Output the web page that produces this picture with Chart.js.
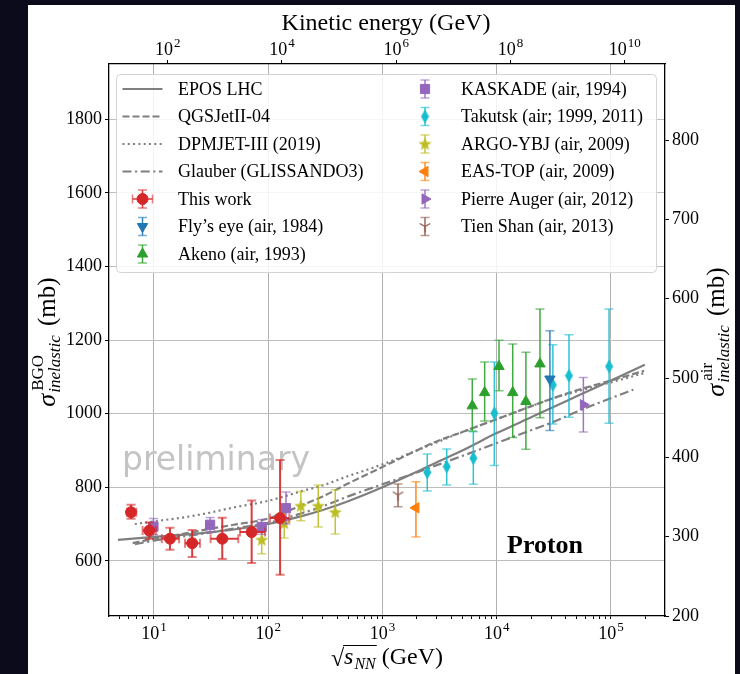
<!DOCTYPE html>
<html>
<head>
<meta charset="utf-8">
<title>Inelastic cross section</title>
<script src="https://cdn.jsdelivr.net/npm/chart.js@4.4.1/dist/chart.umd.min.js"></script>
<style>
  html, body { margin: 0; padding: 0; }
  body { width: 740px; height: 674px; background: #0c0b1c; position: relative; overflow: hidden; }
  #fig { position: absolute; left: 28px; top: 5px; width: 707px; height: 669px; background: #fff; }
  canvas { display: block; }
</style>
</head>
<body>
<div id="fig"><canvas id="xsecChart" width="707" height="669"></canvas></div>
<script>
// ---- values (sqrt(s_NN) in GeV, sigma in mb) ----
const thisWorkX   = [6.3, 9.1, 13.8, 21.6, 39.6, 71.6, 127];
const thisWorkY   = [732, 682, 660, 648, 660, 678, 716];
const thisWorkYLo = [714, 659, 630, 610, 605, 594, 562];
const thisWorkYHi = [752, 704, 690, 684, 717, 764, 874];
const thisWorkXLo = [5.8, 7.96, 11.7, 18.7, 31.3, 56.6, 103.5];
const thisWorkXHi = [7.0, 10.4, 16.6, 25.3, 54.7, 93.8, 153];

const flysEyeX = [29200];
const flysEyeY = [1094];
const flysEyeLo = [954];
const flysEyeHi = [1225];

const akenoX  = [6110, 7840, 10470, 13800, 18000, 23900];
const akenoY  = [1021, 1057, 1128, 1057, 1033, 1135];
const akenoLo = [953, 980, 1062, 935, 903, 989];
const akenoHi = [1094, 1140, 1199, 1189, 1167, 1284];

const kascadeX  = [9.9, 31, 87.7, 143];
const kascadeY  = [693, 698, 692, 743];
const kascadeLo = [671, 678, 672, 700];
const kascadeHi = [715, 718, 712, 787];

const takutskX  = [2466, 3650, 6240, 9530, 31000, 42900, 96200];
const takutskY  = [840, 856, 879, 1001, 1078, 1103, 1128];
const takutskLo = [790, 806, 808, 859, 972, 990, 974];
const takutskHi = [890, 904, 951, 1140, 1187, 1214, 1284];

const argoX  = [87.7, 138, 193, 274, 386];
const argoY  = [657, 702, 749, 749, 732];
const argoLo = [619, 662, 709, 692, 673];
const argoHi = [693, 738, 788, 806, 793];

const easTopX = [1963];
const easTopY = [744];
const easTopLo = [665];
const easTopHi = [815];

const augerX = [57300];
const augerY = [1024];
const augerLo = [950];
const augerHi = [1098];

const tienShanX = [1368];
const tienShanY = [779];
const tienShanLo = [747];
const tienShanHi = [809];

// model curves
const eposX = [4.84, 10, 20, 30, 50, 100, 200, 300, 500, 1000, 2000, 3000, 5000, 1e4, 2e4, 3e4, 5e4, 1e5, 1.98e5];
const eposY = [657, 665, 672, 677, 685, 700, 722, 738, 762, 800, 842, 868, 900, 947, 990, 1015, 1047, 1090, 1133];
const qgsX = [6.5, 10, 20, 30, 50, 100, 200, 300, 500, 1000, 2000, 3000, 5000, 1e4, 2e4, 3e4, 5e4, 1e5, 1.95e5];
const qgsY = [648, 660, 676, 686, 698, 715, 752, 775, 810, 855, 900, 925, 950, 985, 1020, 1040, 1063, 1090, 1116];
const dpmX = [6.8, 10, 20, 30, 50, 100, 200, 300, 500, 1000, 2000, 3000, 5000, 1e4, 2e4, 3e4, 5e4, 1e5, 1.95e5];
const dpmY = [700, 707, 720, 730, 745, 763, 790, 805, 830, 862, 900, 922, 950, 985, 1020, 1040, 1060, 1085, 1110];
const glauberX = [6.8, 10, 20, 30, 50, 100, 200, 300, 500, 1000, 2000, 3000, 5000, 1e4, 2e4, 3e4, 5e4, 1e5, 1.57e5];
const glauberY = [645, 655, 668, 676, 688, 703, 730, 748, 775, 808, 840, 860, 885, 920, 955, 975, 1005, 1042, 1065];

// axes
const xRange = [4.04, 2.97e5];
const xLabelPowers = [1, 2, 3, 4, 5];
const yLeftRange = [450, 1950];
const yLeftTicks = [600, 800, 1000, 1200, 1400, 1600, 1800];
const yRightRange = [200, 896];
const yRightTicks = [200, 300, 400, 500, 600, 700, 800];
const kinTickPowers = [2, 4, 6, 8, 10];
const KIN_OFFSET = -0.24; // log10(E_kin) = 2 log10(sqrt s) + offset

const serif = "'Liberation Serif', 'DejaVu Serif', serif";
const GREY = '#7f7f7f';

// ---- helpers ----
function isPow10(v) { const l = Math.log10(v); return Math.abs(l - Math.round(l)) < 1e-6; }
function kin(s) { return Math.pow(10, 2 * Math.log10(s) + KIN_OFFSET); }
function logTicks(min, max) {
  const out = [];
  for (let e = Math.floor(Math.log10(min)); e <= Math.ceil(Math.log10(max)); e++) {
    for (let k = 1; k <= 9; k++) {
      const v = k * Math.pow(10, e);
      if (v >= min && v <= max) out.push({ value: v });
    }
  }
  return out;
}
function pts(xs, ys) { return xs.map((x, i) => ({ x: x, y: ys[i] })); }
function errs(lo, hi, xlo, xhi) {
  return lo.map((l, i) => ({ yLo: l, yHi: hi[i], xLo: xlo ? xlo[i] : null, xHi: xhi ? xhi[i] : null }));
}

function makeMarker(kind, color) {
  const c = document.createElement('canvas');
  const g = c.getContext('2d');
  if (kind === 'star') {
    c.width = c.height = 15;
    g.fillStyle = color;
    g.beginPath();
    for (let k = 0; k < 10; k++) {
      const r = k % 2 ? 2.9 : 7;
      const a = -Math.PI / 2 + k * Math.PI / 5;
      g.lineTo(7.5 + r * Math.cos(a), 7.8 + r * Math.sin(a));
    }
    g.closePath();
    g.fill();
  } else if (kind === 'thinDiamond') {
    c.width = 9; c.height = 15;
    g.fillStyle = color;
    g.beginPath();
    g.moveTo(4.5, 0.5); g.lineTo(8.5, 7.5); g.lineTo(4.5, 14.5); g.lineTo(0.5, 7.5);
    g.closePath();
    g.fill();
  } else if (kind === 'triDown') {
    c.width = c.height = 13;
    g.strokeStyle = color;
    g.lineWidth = 1.3;
    g.beginPath();
    g.moveTo(6.5, 6.5); g.lineTo(6.5, 12.5);
    g.moveTo(6.5, 6.5); g.lineTo(1.3, 3.5);
    g.moveTo(6.5, 6.5); g.lineTo(11.7, 3.5);
    g.stroke();
  }
  return c;
}

function modelLine(label, xs, ys, dash) {
  return {
    type: 'line', label: label, data: pts(xs, ys),
    borderColor: GREY, borderWidth: 2.2, borderDash: dash,
    pointRadius: 0, cubicInterpolationMode: 'monotone', fill: false, order: 20,
    xAxisID: 'x', yAxisID: 'y'
  };
}
function pointSet(label, xs, ys, errors, color, style, radius, rotation) {
  return {
    type: 'scatter', label: label, data: pts(xs, ys), err: errors,
    backgroundColor: color, borderColor: color, pointBackgroundColor: color, pointBorderColor: color,
    pointStyle: style, pointRadius: radius, pointRotation: rotation || 0, pointBorderWidth: 1,
    showLine: false, order: 1, xAxisID: 'x', yAxisID: 'y'
  };
}

const datasets = [
  modelLine('EPOS LHC', eposX, eposY, []),
  modelLine('QGSJetII-04', qgsX, qgsY, [7, 3]),
  modelLine('DPMJET-III (2019)', dpmX, dpmY, [2, 3.3]),
  modelLine('Glauber (GLISSANDO3)', glauberX, glauberY, [9, 3.5, 2.2, 3.5]),
  Object.assign(pointSet('This work', thisWorkX, thisWorkY, errs(thisWorkYLo, thisWorkYHi, thisWorkXLo, thisWorkXHi), '#d62728', 'circle', 5.5), { order: 0 }),
  pointSet("Fly’s eye (air, 1984)", flysEyeX, flysEyeY, errs(flysEyeLo, flysEyeHi), '#1f77b4', 'triangle', 6, 180),
  pointSet('Akeno (air, 1993)', akenoX, akenoY, errs(akenoLo, akenoHi), '#2ca02c', 'triangle', 6),
  pointSet('KASKADE (air, 1994)', kascadeX, kascadeY, errs(kascadeLo, kascadeHi), '#9467bd', 'rect', 6.5),
  pointSet('Takutsk (air; 1999, 2011)', takutskX, takutskY, errs(takutskLo, takutskHi), '#17becf', makeMarker('thinDiamond', '#17becf'), 6),
  pointSet('ARGO-YBJ (air, 2009)', argoX, argoY, errs(argoLo, argoHi), '#bcbd22', makeMarker('star', '#bcbd22'), 6),
  pointSet('EAS-TOP (air, 2009)', easTopX, easTopY, errs(easTopLo, easTopHi), '#ff7f0e', 'triangle', 6, -90),
  pointSet('Pierre Auger (air, 2012)', augerX, augerY, errs(augerLo, augerHi), '#9467bd', 'triangle', 6, 90),
  pointSet('Tien Shan (air, 2013)', tienShanX, tienShanY, errs(tienShanLo, tienShanHi), '#8c564b', makeMarker('triDown', '#8c564b'), 6)
];

function withAlpha(hex, a) {
  const n = parseInt(hex.slice(1), 16);
  return `rgba(${n >> 16},${(n >> 8) & 255},${n & 255},${a})`;
}

// error bars, drawn just before each dataset's markers
const errorBars = {
  id: 'errorBars',
  beforeDatasetDraw(chart, args) {
    const ds = chart.data.datasets[args.index];
    if (!ds.err) return;
    const xs = chart.scales.x, ys = chart.scales.y, ctx = chart.ctx;
    const cap = 4.5;
    ctx.save();
    ds.err.forEach((e, i) => {
      const px = xs.getPixelForValue(ds.data[i].x);
      const py = ys.getPixelForValue(ds.data[i].y);
      const lo = ys.getPixelForValue(e.yLo), hi = ys.getPixelForValue(e.yHi);
      ctx.lineWidth = ds.label === 'This work' ? 2 : 1.5;
      ctx.strokeStyle = withAlpha(ds.borderColor, 0.9);
      ctx.beginPath();
      ctx.moveTo(px, lo); ctx.lineTo(px, hi);
      if (e.xLo !== null) {
        ctx.moveTo(xs.getPixelForValue(e.xLo), py); ctx.lineTo(xs.getPixelForValue(e.xHi), py);
      }
      ctx.stroke();
      ctx.strokeStyle = withAlpha(ds.borderColor, 0.6);
      ctx.beginPath();
      ctx.moveTo(px - cap, lo); ctx.lineTo(px + cap, lo);
      ctx.moveTo(px - cap, hi); ctx.lineTo(px + cap, hi);
      if (e.xLo !== null) {
        const a = xs.getPixelForValue(e.xLo), b = xs.getPixelForValue(e.xHi);
        ctx.moveTo(a, py - cap); ctx.lineTo(a, py + cap);
        ctx.moveTo(b, py - cap); ctx.lineTo(b, py + cap);
      }
      ctx.stroke();
    });
    ctx.restore();
  }
};

const watermark = {
  id: 'watermark',
  beforeDatasetsDraw(chart) {
    const ctx = chart.ctx;
    ctx.save();
    ctx.font = "33px 'DejaVu Sans', sans-serif";
    ctx.fillStyle = '#c4c4c4';
    ctx.textAlign = 'left';
    ctx.textBaseline = 'alphabetic';
    ctx.fillText('preliminary', 94, 465);
    ctx.restore();
  }
};

// "10" with a raised exponent, centred on x
function drawPowerLabel(ctx, x, base, power) {
  const fBase = `18px ${serif}`, fExp = `13px ${serif}`;
  ctx.font = fBase; const wb = ctx.measureText('10').width;
  ctx.font = fExp; const we = ctx.measureText(String(power)).width;
  const left = x - (wb + we + 1) / 2;
  ctx.textAlign = 'left';
  ctx.textBaseline = 'alphabetic';
  ctx.font = fBase; ctx.fillText('10', left, base);
  ctx.font = fExp; ctx.fillText(String(power), left + wb + 1, base - 8);
}

function drawSigmaLabel(ctx, cx, cy, supText) {
  ctx.save();
  ctx.translate(cx, cy);
  ctx.rotate(-Math.PI / 2);
  const fSig = `italic 26px ${serif}`, fSup = `17px ${serif}`, fSub = `italic 17px ${serif}`, fUnit = `25px ${serif}`;
  ctx.font = fSig; const wSig = ctx.measureText('σ').width;
  ctx.font = fSup; const wSup = ctx.measureText(supText).width;
  ctx.font = fSub; const wSub = ctx.measureText('inelastic').width;
  ctx.font = fUnit; const wUnit = ctx.measureText(' (mb)').width;
  const total = wSig + 1 + Math.max(wSup + 2, wSub) + 3 + wUnit;
  let x = -total / 2;
  const base = 7;
  ctx.fillStyle = '#000';
  ctx.textAlign = 'left';
  ctx.textBaseline = 'alphabetic';
  ctx.font = fSig; ctx.fillText('σ', x, base); x += wSig + 1;
  ctx.font = fSup; ctx.fillText(supText, x + 2, base - 12);
  ctx.font = fSub; ctx.fillText('inelastic', x, base + 5);
  x += Math.max(wSup + 2, wSub) + 3;
  ctx.font = fUnit; ctx.fillText(' (mb)', x, base);
  ctx.restore();
}

function drawSqrtLabel(ctx, cx, base) {
  ctx.save();
  ctx.fillStyle = '#000';
  ctx.strokeStyle = '#000';
  ctx.textAlign = 'left';
  ctx.textBaseline = 'alphabetic';
  const fRoot = `24px ${serif}`, fS = `italic 24px ${serif}`, fSub = `italic 16px ${serif}`, fUnit = `24px ${serif}`;
  ctx.font = fRoot; const wRoot = ctx.measureText('√').width;
  ctx.font = fS; const wS = ctx.measureText('s').width;
  ctx.font = fSub; const wSub = ctx.measureText('NN').width;
  ctx.font = fUnit; const wUnit = ctx.measureText(' (GeV)').width;
  const total = wRoot + wS + 1 + wSub + wUnit;
  let x = cx - total / 2;
  ctx.font = fRoot; ctx.fillText('√', x, base + 2);
  const barStart = x + wRoot - 1;
  x += wRoot;
  ctx.font = fS; ctx.fillText('s', x, base); x += wS + 1;
  ctx.font = fSub; ctx.fillText('NN', x, base + 5); x += wSub;
  ctx.lineWidth = 1;
  ctx.beginPath();
  ctx.moveTo(barStart, base - 18.5); ctx.lineTo(x + 1, base - 18.5);
  ctx.stroke();
  ctx.font = fUnit; ctx.fillText(' (GeV)', x, base);
  ctx.restore();
}

const decorations = {
  id: 'decorations',
  afterDraw(chart) {
    const ctx = chart.ctx;
    ctx.save();
    ctx.fillStyle = '#000';
    // log-axis tick labels
    const xb = chart.scales.x, xt = chart.scales.x2;
    xLabelPowers.forEach(p => drawPowerLabel(ctx, xb.getPixelForValue(Math.pow(10, p)), 634, p));
    kinTickPowers.forEach(p => drawPowerLabel(ctx, xt.getPixelForValue(Math.pow(10, p)), 50, p));
    ctx.textAlign = 'center';
    ctx.textBaseline = 'alphabetic';
    ctx.font = `24px ${serif}`;
    ctx.fillText('Kinetic energy (GeV)', 358, 25);
    ctx.font = `bold 26px ${serif}`;
    ctx.textAlign = 'left';
    ctx.fillText('Proton', 479, 548);
    ctx.restore();
    drawSqrtLabel(ctx, 359, 659);
    drawSigmaLabel(ctx, 20, 337, 'BGO');
    drawSigmaLabel(ctx, 689, 327, 'air');

    // legend
    const box = { x: 88, y: 69, w: 540, h: 198 };
    ctx.save();
    ctx.fillStyle = 'rgba(255,255,255,0.85)';
    ctx.strokeStyle = '#d3d3d3';
    ctx.lineWidth = 1;
    ctx.beginPath();
    ctx.roundRect(box.x + 0.5, box.y + 0.5, box.w, box.h, 4);
    ctx.fill();
    ctx.stroke();
    const rowH = 27.5, row0 = 84;
    chart.data.datasets.forEach((ds, i) => {
      const leftCol = i < 7;
      const row = leftCol ? i : i - 7;
      const y = row0 + row * rowH;
      const mx = leftCol ? 114.5 : 397;
      const tx = leftCol ? 150 : 433;
      if (ds.type === 'line') {
        ctx.save();
        ctx.strokeStyle = GREY;
        ctx.lineWidth = 2.2;
        ctx.setLineDash(ds.borderDash);
        ctx.beginPath();
        ctx.moveTo(mx - 20, y); ctx.lineTo(mx + 20, y);
        ctx.stroke();
        ctx.restore();
      } else {
        ctx.save();
        ctx.lineWidth = 1.5;
        ctx.strokeStyle = withAlpha(ds.borderColor, 0.9);
        ctx.beginPath();
        ctx.moveTo(mx, y - 9); ctx.lineTo(mx, y + 9);
        if (ds.label === 'This work') { ctx.moveTo(mx - 10, y); ctx.lineTo(mx + 10, y); }
        ctx.stroke();
        ctx.strokeStyle = withAlpha(ds.borderColor, 0.6);
        ctx.beginPath();
        ctx.moveTo(mx - 4.5, y - 9); ctx.lineTo(mx + 4.5, y - 9);
        ctx.moveTo(mx - 4.5, y + 9); ctx.lineTo(mx + 4.5, y + 9);
        if (ds.label === 'This work') {
          ctx.moveTo(mx - 10, y - 4.5); ctx.lineTo(mx - 10, y + 4.5);
          ctx.moveTo(mx + 10, y - 4.5); ctx.lineTo(mx + 10, y + 4.5);
        }
        ctx.stroke();
        ctx.fillStyle = ds.pointBackgroundColor;
        ctx.strokeStyle = ds.pointBorderColor;
        ctx.lineWidth = 1;
        Chart.helpers.drawPoint(ctx, {
          pointStyle: ds.pointStyle, rotation: ds.pointRotation,
          radius: ds.pointRadius, borderWidth: 1
        }, mx, y);
        ctx.restore();
      }
      ctx.fillStyle = '#000';
      ctx.font = `18px ${serif}`;
      ctx.textAlign = 'left';
      ctx.textBaseline = 'middle';
      ctx.fillText(ds.label, tx, y + 1);
    });
    ctx.restore();
  }
};

const tickFont = { family: serif, size: 18 };
const frame = { color: '#000', width: 1.3 };

new Chart(document.getElementById('xsecChart'), {
  type: 'scatter',
  data: { datasets: datasets },
  plugins: [watermark, errorBars, decorations],
  options: {
    responsive: false,
    animation: false,
    events: [],
    layout: { padding: 0 },
    plugins: { legend: { display: false }, tooltip: { enabled: false } },
    scales: {
      x: {
        type: 'logarithmic', position: 'bottom', min: xRange[0], max: xRange[1],
        afterBuildTicks: s => { s.ticks = logTicks(xRange[0], xRange[1]); },
        afterFit: s => { s.height = 58; },
        ticks: { display: false, autoSkip: false },
        grid: {
          color: c => (c.tick && isPow10(c.tick.value)) ? '#b0b0b0' : 'rgba(0,0,0,0)',
          tickColor: '#000', tickLength: 3, lineWidth: 1
        },
        border: frame
      },
      x2: {
        type: 'logarithmic', position: 'top', min: kin(xRange[0]), max: kin(xRange[1]),
        afterBuildTicks: s => { s.ticks = kinTickPowers.map(p => ({ value: Math.pow(10, p) })); },
        afterFit: s => { s.height = 59; },
        ticks: { display: false, autoSkip: false },
        grid: { drawOnChartArea: false, tickColor: '#000', tickLength: 4 },
        border: frame
      },
      y: {
        type: 'linear', position: 'left', min: yLeftRange[0], max: yLeftRange[1],
        afterBuildTicks: s => { s.ticks = yLeftTicks.map(v => ({ value: v })); },
        afterFit: s => { s.width = 81; },
        ticks: { padding: 3, color: '#000', font: tickFont, callback: v => String(v) },
        grid: { color: '#bdbdbd', lineWidth: 1, tickColor: '#000', tickLength: 4 },
        border: frame
      },
      y2: {
        type: 'linear', position: 'right', min: yRightRange[0], max: yRightRange[1],
        afterBuildTicks: s => { s.ticks = yRightTicks.map(v => ({ value: v })); },
        afterFit: s => { s.width = 70; },
        ticks: { padding: 3, color: '#000', font: tickFont, callback: v => String(v) },
        grid: { drawOnChartArea: false, tickColor: '#000', tickLength: 4 },
        border: frame
      }
    }
  }
});
</script>
</body>
</html>
